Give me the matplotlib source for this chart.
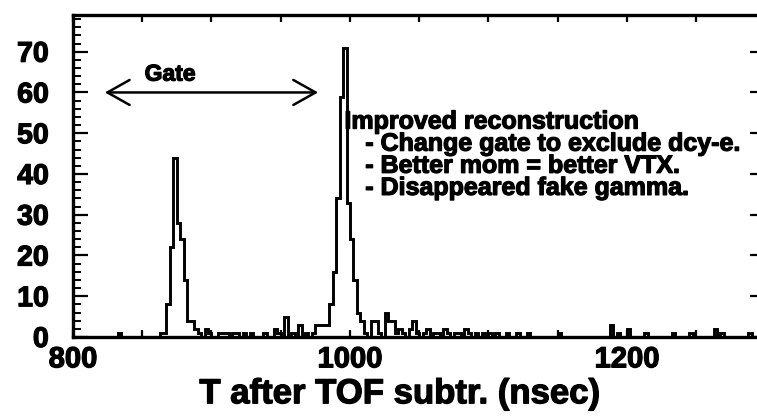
import matplotlib
matplotlib.use("Agg")
import matplotlib.pyplot as plt
import matplotlib.patheffects as pe
import numpy as np
from matplotlib.ticker import MultipleLocator, FuncFormatter

plt.rcParams['font.family'] = ['Liberation Sans', 'DejaVu Sans']
plt.rcParams['font.weight'] = 'bold'

# histogram binning (nsec)
t_min = 800.0
t_max = 1300.0
bin_w = 2.5

# left edges of the filled bins and their counts
t_bins = [832.5,
          862.5, 865, 867.5, 870, 872.5, 875, 877.5, 880, 882.5, 885, 887.5,
          890, 895, 897.5, 905, 907.5, 910, 915, 917.5, 922.5, 927.5,
          937.5, 945, 947.5, 952.5, 957.5, 962.5, 967.5, 972.5,
          975, 977.5, 980, 982.5, 985, 987.5, 990, 992.5, 995, 997.5,
          1000, 1002.5, 1005, 1007.5, 1010, 1015, 1017.5, 1020,
          1025, 1027.5, 1030, 1032.5, 1035, 1037.5, 1042.5, 1045, 1047.5,
          1052.5, 1055, 1060, 1062.5, 1067.5, 1070, 1075, 1077.5,
          1082.5, 1085, 1090, 1095, 1100, 1105, 1112.5, 1120, 1127.5,
          1150, 1187.5, 1192.5, 1200, 1212.5, 1232.5, 1245, 1262.5,
          1267.5, 1287.5]
counts = [1,
          1, 1, 8, 22, 44, 28, 24, 14, 4, 4, 2,
          1, 2, 1, 1, 1, 1, 1, 1, 1, 1,
          1, 2, 1, 5, 1, 3, 1, 1,
          3, 3, 3, 3, 8, 16, 34, 59, 71, 33,
          24, 14, 6, 4, 1, 4, 4, 1,
          6, 4, 4, 1, 2, 1, 2, 4, 1,
          1, 2, 1, 1, 2, 1, 1, 1,
          2, 1, 1, 1, 1, 1, 1, 1, 1,
          1, 3, 1, 2, 1, 1, 1, 2,
          1, 1]

gate_lo, gate_hi = 823, 977
gate_y = 60

notes = ["Improved reconstruction",
         "   - Change gate to exclude dcy-e.",
         "   - Better mom = better VTX.",
         "   - Disappeared fake gamma."]

edges = np.arange(t_min, t_max + bin_w / 2, bin_w)
hist = np.zeros(len(edges) - 1)
for t, c in zip(t_bins, counts):
    hist[int(round((t - t_min) / bin_w))] = c

# heavier strokes on the bold font
heavy = [pe.withStroke(linewidth=0.9, foreground='black')]

fig = plt.figure(figsize=(7.57, 4.16), dpi=100)
ax = fig.add_axes([0.0964, 0.1899, 0.9148, 0.774])

ax.stairs(hist, edges, color='black', lw=2.1)

ax.set_xlim(t_min, t_max)
ax.set_ylim(0, 79)

for s in ax.spines.values():
    s.set_linewidth(2.4)

ax.xaxis.set_major_locator(MultipleLocator(50))
ax.xaxis.set_major_formatter(
    FuncFormatter(lambda v, p: f"{v:.0f}" if v % 200 == 0 else ""))
ax.yaxis.set_major_locator(MultipleLocator(10))
ax.yaxis.set_minor_locator(MultipleLocator(2))

ax.tick_params(axis='x', which='major', direction='in', top=True,
               length=5, width=1.6, labelsize=21, pad=6)
ax.tick_params(axis='y', which='major', direction='in', right=True,
               length=10.5, width=1.6, labelsize=20.5, pad=17.5)
ax.tick_params(axis='y', which='minor', direction='in', right=False,
               length=5.5, width=1.4)
for lab in ax.get_xticklabels() + ax.get_yticklabels():
    lab.set_path_effects(heavy)

ax.set_xlabel("T after TOF subtr. (nsec)", fontsize=25, fontweight='bold',
              path_effects=heavy)
ax.xaxis.set_label_coords(0.472, -0.125)

# gate window
ax.annotate('', xy=(gate_lo, gate_y), xytext=(gate_hi, gate_y),
            arrowprops=dict(arrowstyle='<->,head_length=0.8,head_width=0.45',
                            color='black', lw=1.8, mutation_scale=20,
                            shrinkA=0, shrinkB=0))
ax.text(870, 64.5, "Gate", fontsize=16.5, fontweight='bold',
        ha='center', va='center', path_effects=heavy)

ax.text(996, 55.8, "\n".join(notes), fontsize=18, fontweight='bold',
        ha='left', va='top', linespacing=0.9, path_effects=heavy)

fig.savefig("out.png", dpi=100)
